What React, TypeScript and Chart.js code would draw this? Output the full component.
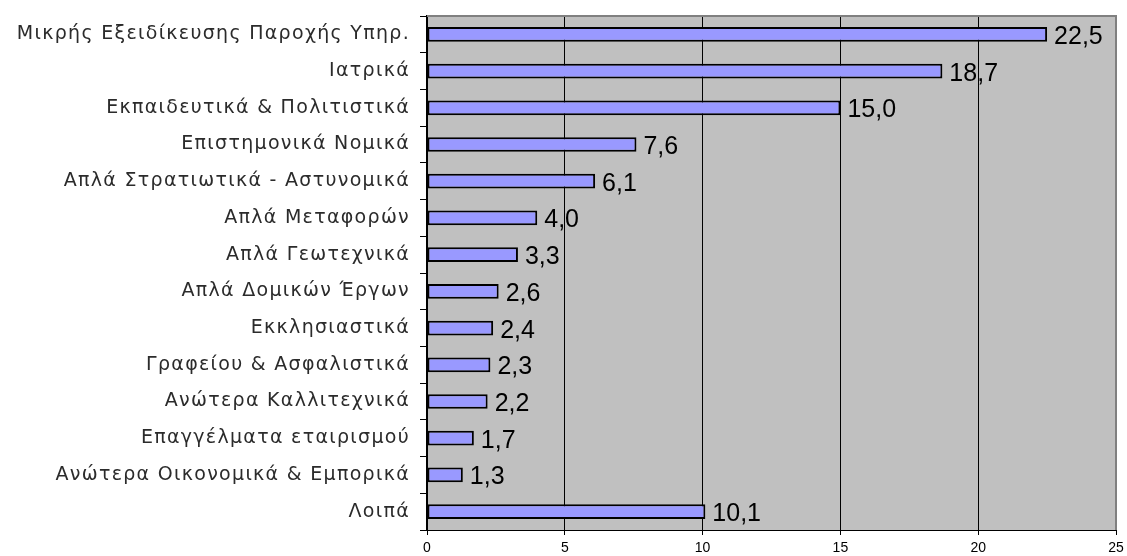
import React, { useEffect, useRef } from "react";
import { Chart, registerables } from "chart.js";

Chart.register(...registerables);

const categories: string[] = [
  "Μικρής Εξειδίκευσης Παροχής Υπηρ.",
  "Ιατρικά",
  "Εκπαιδευτικά & Πολιτιστικά",
  "Επιστημονικά Νομικά",
  "Απλά Στρατιωτικά - Αστυνομικά",
  "Απλά Μεταφορών",
  "Απλά Γεωτεχνικά",
  "Απλά Δομικών Έργων",
  "Εκκλησιαστικά",
  "Γραφείου & Ασφαλιστικά",
  "Ανώτερα Καλλιτεχνικά",
  "Επαγγέλματα εταιρισμού",
  "Ανώτερα Οικονομικά & Εμπορικά",
  "Λοιπά",
];

const values: number[] = [22.5, 18.7, 15.0, 7.6, 6.1, 4.0, 3.3, 2.6, 2.4, 2.3, 2.2, 1.7, 1.3, 10.1];

const xTicks: number[] = [0, 5, 10, 15, 20, 25];

const plotBg = {
  id: "plotBg",
  beforeDraw(chart: any) {
    const { ctx, chartArea } = chart;
    ctx.save();
    ctx.fillStyle = "#C0C0C0";
    ctx.fillRect(chartArea.left, chartArea.top, chartArea.right - chartArea.left, chartArea.bottom - chartArea.top);
    ctx.restore();
    // wider tracking for the category labels drawn by the y scale
    try {
      (ctx as any).letterSpacing = "1.3px";
    } catch (e) {}
  },
  beforeDatasetsDraw(chart: any) {
    try {
      (chart.ctx as any).letterSpacing = "0px";
    } catch (e) {}
  },
  afterDatasetsDraw(chart: any) {
    const { ctx, chartArea } = chart;
    ctx.save();
    ctx.strokeStyle = "#808080";
    ctx.lineWidth = 2;
    ctx.beginPath();
    ctx.moveTo(chartArea.left, chartArea.top);
    ctx.lineTo(chartArea.right, chartArea.top);
    ctx.lineTo(chartArea.right, chartArea.bottom);
    ctx.stroke();
    // data labels
    const meta = chart.getDatasetMeta(0);
    ctx.fillStyle = "#000000";
    ctx.font = "25px 'Liberation Sans', Arial, sans-serif";
    ctx.textBaseline = "alphabetic";
    ctx.textAlign = "left";
    meta.data.forEach((bar: any, i: number) => {
      const v = values[i];
      const txt = v.toFixed(1).replace(".", ",");
      ctx.fillText(txt, bar.x + 7, bar.y + 9.5);
    });
    ctx.restore();
  },
};

export default function App() {
  const ref = useRef<HTMLCanvasElement | null>(null);
  useEffect(() => {
    document.body.style.margin = "0";
    const chart = new Chart(ref.current as HTMLCanvasElement, {
      type: "bar",
      data: {
        labels: categories,
        datasets: [
          {
            data: values,
            backgroundColor: "#9999FF",
            borderColor: "#000000",
            borderWidth: 2,
            borderSkipped: false,
            barPercentage: 0.4,
            categoryPercentage: 1,
          },
        ],
      },
      options: {
        indexAxis: "y",
        animation: false,
        responsive: false,
        maintainAspectRatio: false,
        layout: { padding: { left: 0, top: 16, right: 11, bottom: 0 } },
        plugins: { legend: { display: false }, tooltip: { enabled: false } },
        scales: {
          x: {
            min: 0,
            max: 25,
            afterBuildTicks(scale: any) {
              scale.ticks = xTicks.map((v) => ({ value: v }));
            },
            afterFit(scale: any) {
              scale.height = 26;
              scale.paddingLeft = 0;
              scale.paddingRight = 0;
            },
            border: { display: true, color: "#000000", width: 1 },
            grid: {
              color: (c: any) => (c.tick && (c.tick.value === 0 || c.tick.value === 25) ? "rgba(0,0,0,0)" : "#000000"),
              lineWidth: 1,
              drawTicks: true,
              tickLength: 5,
              tickColor: "#000000",
            },
            ticks: {
              color: "#000000",
              font: { family: "'Liberation Sans', Arial, sans-serif", size: 14 },
              padding: 5,
              maxRotation: 0,
              z: 1,
            },
          },
          y: {
            afterFit(scale: any) {
              scale.width = 427;
              scale.paddingTop = 0;
              scale.paddingBottom = 0;
            },
            border: { display: true, color: "#000000", width: 2 },
            grid: {
              drawOnChartArea: false,
              drawTicks: true,
              tickLength: 7,
              color: "#000000",
              offset: true,
            },
            ticks: {
              color: "#2b2b2b",
              font: { family: "'DejaVu Sans', sans-serif", size: 19 },
              padding: 10,
              autoSkip: false,
            },
          },
        },
      },
      plugins: [plotBg],
    });
    return () => chart.destroy();
  }, []);
  return (
    <div style={{ width: 1127, height: 556, position: "relative" }}>
      <canvas ref={ref} width={1127} height={556} style={{ display: "block" }} />
    </div>
  );
}
